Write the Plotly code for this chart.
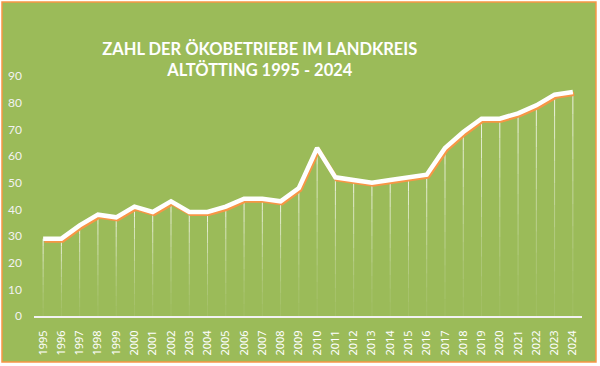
import plotly.graph_objects as go

years = [1995, 1996, 1997, 1998, 1999, 2000, 2001, 2002, 2003, 2004,
         2005, 2006, 2007, 2008, 2009, 2010, 2011, 2012, 2013, 2014,
         2015, 2016, 2017, 2018, 2019, 2020, 2021, 2022, 2023, 2024]
betriebe = [29, 29, 34, 38, 37, 41, 39, 43, 39, 39,
            41, 44, 44, 43, 48, 63, 52, 51, 50, 51,
            52, 53, 63, 69, 74, 74, 76, 79, 83, 84]
y_ticks = [0, 10, 20, 30, 40, 50, 60, 70, 80, 90]
title_text = "ZAHL DER ÖKOBETRIEBE IM LANDKREIS<br>ALTÖTTING 1995 - 2024"

GREEN = "#9BBB59"
ORANGE = "#F79646"
TXT = "#F2F2F2"

fig = go.Figure()

# fading drop lines (white, more opaque near the line)
N = 10
for k in range(N):
    xs, ys = [], []
    for x, v in zip(years, betriebe):
        xs += [x, x, None]
        ys += [v * k / N, v * (k + 1) / N, None]
    op = 0.05 + 0.75 * ((k + 1) / N) ** 1.5
    fig.add_trace(go.Scatter(x=xs, y=ys, mode="lines",
                             line=dict(color=f"rgba(255,255,255,{op:.3f})", width=1),
                             hoverinfo="skip", showlegend=False))

# orange shadow
fig.add_trace(go.Scatter(x=[x + 0.07 for x in years], y=[v - 0.7 for v in betriebe],
                         mode="lines", line=dict(color=ORANGE, width=4.5),
                         hoverinfo="skip", showlegend=False))
# white line
fig.add_trace(go.Scatter(x=years, y=betriebe, mode="lines",
                         line=dict(color="white", width=4.5),
                         showlegend=False))

fig.update_layout(
    width=600, height=366,
    margin=dict(l=34, r=18, t=76, b=50),
    paper_bgcolor="white",
    plot_bgcolor="rgba(0,0,0,0)",
    title=dict(text=title_text, xref="container", x=0.433, xanchor="center",
               yref="container", y=1 - 55 / 366, yanchor="top",
               font=dict(family="Lato", size=16.5, color="white", weight="bold")),
    shapes=[dict(type="rect", xref="paper", yref="paper",
                 x0=-0.0584, x1=1.0255, y0=-0.1917, y1=1.308,
                 fillcolor=GREEN, line=dict(color=ORANGE, width=1.5),
                 layer="below")],
    xaxis=dict(range=[1994.5, 2024.5], tickmode="array", tickvals=years,
               ticktext=[str(y) for y in years], tickangle=-90,
               showgrid=False, zeroline=False, showline=True,
               linecolor="#F2F2F2", linewidth=2, ticks="",
               ticklabelstandoff=8, automargin=False,
               tickfont=dict(family="Noto Sans", size=11, color="#FFFFFF",
                             shadow="none")),
    yaxis=dict(range=[0, 90], tickmode="array", tickvals=y_ticks,
               showgrid=False, zeroline=False, showline=False, ticks="",
               ticklabelstandoff=11, automargin=False,
               tickfont=dict(family="Lato", size=12, color=TXT)),
)

fig.write_html("out.html", config={"displayModeBar": False},
               post_script="document.body.style.margin='0';document.body.style.overflow='hidden';")
